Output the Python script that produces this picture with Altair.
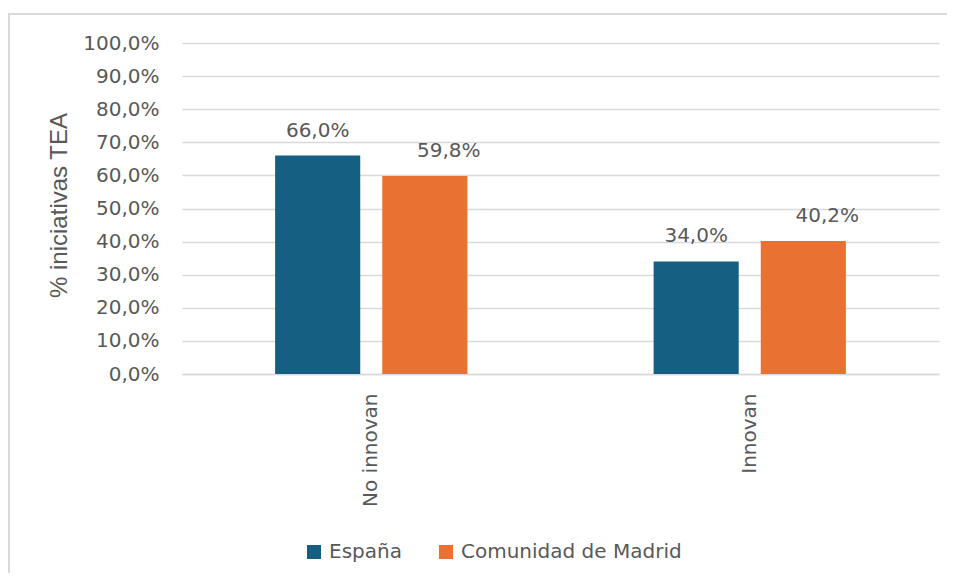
import altair as alt
import pandas as pd

categories = ["No innovan", "Innovan"]
series = ["España", "Comunidad de Madrid"]
espana = [66.0, 34.0]
madrid = [59.8, 40.2]
colors = ["#156082", "#E97132"]
y_ticks = [0, 10, 20, 30, 40, 50, 60, 70, 80, 90, 100]

rows = []
for c, e, m in zip(categories, espana, madrid):
    rows.append({"cat": c, "serie": series[0], "val": e})
    rows.append({"cat": c, "serie": series[1], "val": m})
df = pd.DataFrame(rows)

TXT = "#595959"
FONT = "DejaVu Sans"

x_enc = alt.X("cat:N", sort=categories, title=None,
              scale=alt.Scale(paddingInner=0.492, paddingOuter=0.246),
              axis=alt.Axis(labelAngle=-90, labelFontSize=20, labelFont=FONT,
                            labelColor=TXT, labelPadding=19, ticks=False,
                            domainColor="#d9d9d9", domainWidth=1.5))
xoff = alt.XOffset("serie:N", sort=series,
                   scale=alt.Scale(paddingInner=0.2056, paddingOuter=0))
y_enc = alt.Y("val:Q", title="% iniciativas TEA",
              scale=alt.Scale(domain=[0, 100], nice=False),
              axis=alt.Axis(values=y_ticks, domain=False, ticks=False,
                            labelExpr="replace(format(datum.value, '.1f'), '.', ',') + '%'",
                            labelFontSize=20, labelFont=FONT, labelColor=TXT,
                            labelPadding=23, gridColor="#d9d9d9", gridWidth=1.5,
                            labelOverlap=False,
                            titleFont="Liberation Sans", titleFontSize=24,
                            titleFontWeight="normal", titleColor=TXT,
                            titleX=-116, titleY=162, titleAngle=270,
                            titleAlign="center", titleBaseline="alphabetic"))

base = alt.Chart(df)

bars = base.mark_bar().encode(
    x=x_enc, xOffset=xoff, y=y_enc,
    color=alt.Color("serie:N", sort=series,
                    scale=alt.Scale(domain=series, range=colors),
                    legend=alt.Legend(title=None, orient="none", direction="horizontal",
                                      legendX=122, legendY=499,
                                      symbolType="square", symbolSize=196,
                                      symbolStrokeWidth=0, labelFontSize=20,
                                      labelFont=FONT, labelColor=TXT, labelLimit=500,
                                      labelOffset=5, columnPadding=34)),
)

lab_es = base.transform_filter(alt.datum.serie == series[0]).transform_calculate(
    lbl="replace(format(datum.val, '.1f'), '.', ',') + '%'"
).mark_text(baseline="alphabetic", dy=-19, fontSize=20, font=FONT, color=TXT).encode(
    x=x_enc, xOffset=xoff, y=y_enc, text="lbl:N")

lab_md = base.transform_filter(alt.datum.serie == series[1]).transform_calculate(
    lbl="replace(format(datum.val, '.1f'), '.', ',') + '%'"
).mark_text(baseline="alphabetic", dy=-19, dx=24, fontSize=20, font=FONT, color=TXT).encode(
    x=x_enc, xOffset=xoff, y=y_enc, text="lbl:N")

frame = alt.Chart(pd.DataFrame({"a": [0]}))
border_top = frame.mark_rule(color="#d9d9d9", strokeWidth=2, clip=False).encode(
    x=alt.value(-174), x2=alt.value(1200), y=alt.value(-29))
border_left = frame.mark_rule(color="#d9d9d9", strokeWidth=2, clip=False).encode(
    x=alt.value(-173), y=alt.value(-30), y2=alt.value(1200))

chart = alt.layer(border_top, border_left, bars, lab_es, lab_md).properties(
    width=757, height=331,
    autosize=alt.AutoSizeParams(type="none"),
    padding={"left": 174, "top": 35, "right": 8, "bottom": 199},
).configure(background="white", view=alt.ViewConfig(stroke="transparent"))

chart.save("out.html", embed_options={"renderer": "svg", "actions": False})
